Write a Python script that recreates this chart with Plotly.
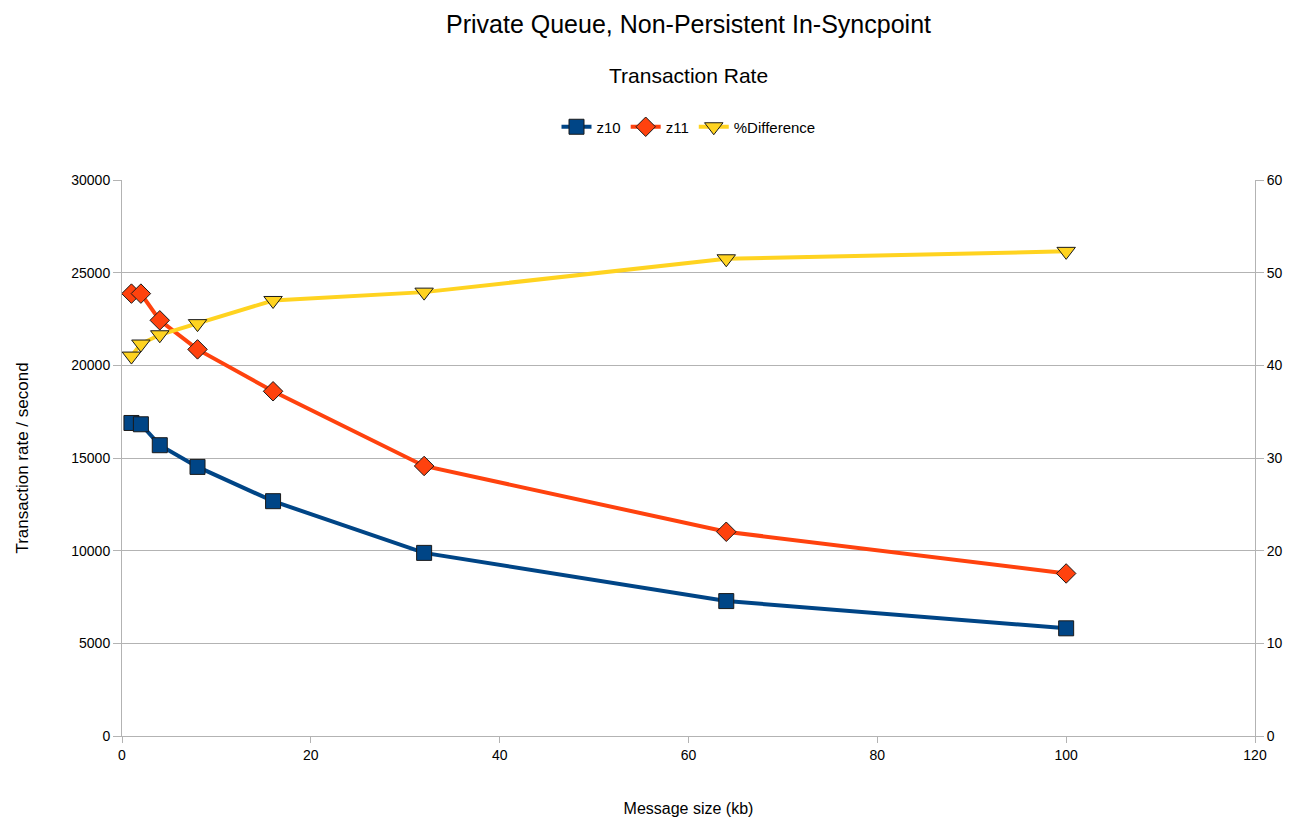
import plotly.graph_objects as go

msg_size = [1, 2, 4, 8, 16, 32, 64, 100]
z10 = [16890, 16820, 15690, 14520, 12670, 9880, 7280, 5810]
z11 = [23870, 23870, 22430, 20860, 18600, 14570, 11020, 8770]
pct_diff = [41.0, 42.3, 43.3, 44.5, 47.0, 47.9, 51.5, 52.3]

x_ticks = [0, 20, 40, 60, 80, 100, 120]
y_ticks = [0, 5000, 10000, 15000, 20000, 25000, 30000]
y2_ticks = [0, 10, 20, 30, 40, 50, 60]

title_text = "Private Queue, Non-Persistent In-Syncpoint"
subtitle_text = "Transaction Rate"
x_title = "Message size (kb)"
y_title = "Transaction rate / second"

FONT = "Liberation Sans, Arial, sans-serif"
PLOT_H = 821 - 180 - 85

fig = go.Figure()
fig.add_trace(go.Scatter(
    x=msg_size, y=z10, name="z10", mode="lines+markers",
    line=dict(color="#004586", width=4),
    marker=dict(symbol="square", size=15, color="#004586", line=dict(color="#1a1a1a", width=1)),
))
fig.add_trace(go.Scatter(
    x=msg_size, y=z11, name="z11", mode="lines+markers",
    line=dict(color="#ff420e", width=4),
    marker=dict(symbol="diamond", size=15, color="#ff420e", line=dict(color="#1a1a1a", width=1)),
))
fig.add_trace(go.Scatter(
    x=msg_size, y=pct_diff, name="%Difference", mode="lines+markers", yaxis="y2",
    line=dict(color="#ffd320", width=4),
    marker=dict(symbol="triangle-down", size=16, color="#ffd320", line=dict(color="#1a1a1a", width=1)),
))

fig.update_layout(
    width=1289, height=821,
    paper_bgcolor="white", plot_bgcolor="white",
    margin=dict(l=122, r=34, t=180, b=85, autoexpand=False),
    font=dict(family=FONT, size=13, color="#000000"),
    showlegend=True,
    legend=dict(orientation="h", x=0.5, xanchor="center",
                y=1 + (180 - 127) / PLOT_H, yref="paper", yanchor="middle",
                font=dict(size=15, family=FONT),
                itemwidth=30, traceorder="normal",
                bgcolor="rgba(0,0,0,0)"),
    title=dict(text=title_text, x=0.5, xanchor="center", xref="paper",
               y=1 - 24 / 821, yanchor="middle",
               font=dict(size=25, family=FONT)),
    xaxis=dict(
        range=[0, 120], tickmode="array", tickvals=x_ticks,
        ticktext=[str(v) for v in x_ticks], automargin=False,
        showgrid=False, zeroline=False, showline=True, linecolor="#b3b3b3", linewidth=1,
        ticks="outside", tickcolor="#b3b3b3", ticklen=6,
        title=dict(text=x_title, font=dict(size=16, family=FONT), standoff=41),
        tickfont=dict(size=14, family=FONT),
    ),
    yaxis=dict(
        range=[0, 30000], tickmode="array", tickvals=y_ticks,
        ticktext=[str(v) for v in y_ticks], automargin=False,
        showgrid=True, gridcolor="#b3b3b3", gridwidth=1, zeroline=False,
        showline=True, linecolor="#b3b3b3", linewidth=1,
        ticks="outside", tickcolor="#b3b3b3", ticklen=8,
        title=dict(text=y_title, font=dict(size=17, family=FONT), standoff=38),
        tickfont=dict(size=14, family=FONT),
    ),
    yaxis2=dict(
        range=[0, 60], tickmode="array", tickvals=y2_ticks,
        ticktext=[str(v) for v in y2_ticks], automargin=False,
        overlaying="y", side="right", showgrid=False, zeroline=False,
        showline=True, linecolor="#b3b3b3", linewidth=1,
        ticks="outside", tickcolor="#b3b3b3", ticklen=8,
        tickfont=dict(size=14, family=FONT),
    ),
)
fig.add_annotation(text=subtitle_text, x=0.5, xref="paper", xanchor="center",
                   y=1 + (180 - 75) / PLOT_H, yref="paper", yanchor="middle",
                   showarrow=False, font=dict(size=21, family=FONT))

fig.write_html("out.html", config={"displayModeBar": False},
               post_script="document.body.style.margin='0';")
